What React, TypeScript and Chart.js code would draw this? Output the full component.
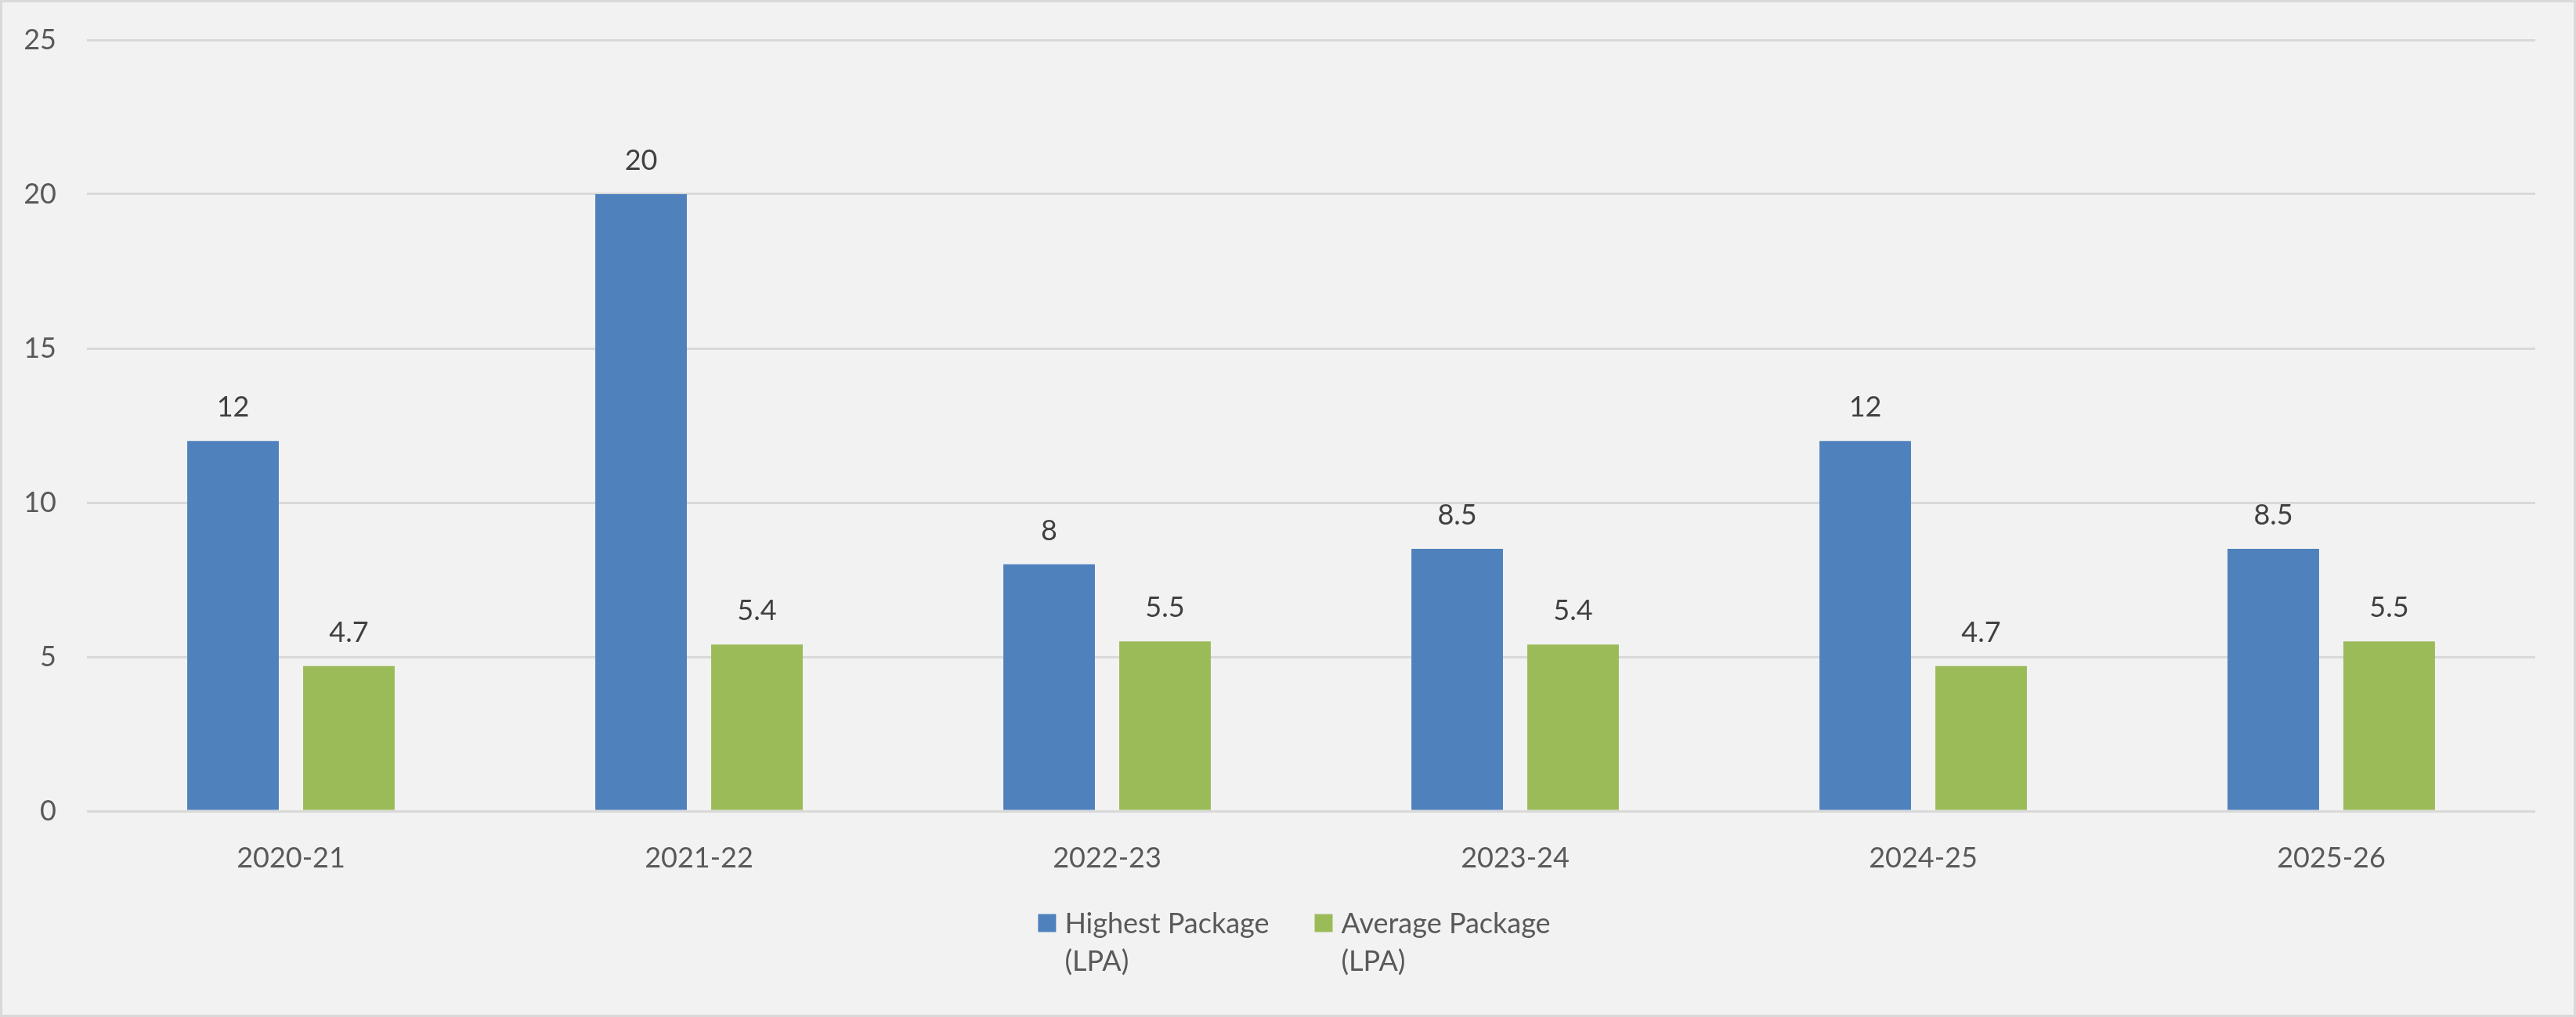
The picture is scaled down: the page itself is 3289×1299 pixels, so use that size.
import React, { useEffect, useRef } from 'react';
import { Chart, registerables } from 'chart.js';

Chart.register(...registerables);

const categories = ['2020-21', '2021-22', '2022-23', '2023-24', '2024-25', '2025-26'];
const highestPackage = [12, 20, 8, 8.5, 12, 8.5];
const averagePackage = [4.7, 5.4, 5.5, 5.4, 4.7, 5.5];
const seriesNames = [
  ['Highest Package', '(LPA)'],
  ['Average Package', '(LPA)'],
];
const seriesColors = ['#4f81bd', '#9bbb59'];
const yMin = 0;
const yMax = 25;
const yStep = 5;

const W = 3289;
const H = 1299;
const FONT = 'Lato, "Open Sans", sans-serif';

const backgroundPlugin = {
  id: 'bgBorder',
  beforeDraw(chart: any) {
    const { ctx, width, height } = chart;
    ctx.save();
    ctx.fillStyle = '#f2f2f2';
    ctx.fillRect(0, 0, width, height);
    ctx.strokeStyle = '#d9d9d9';
    ctx.lineWidth = 3;
    ctx.strokeRect(1.5, 1.5, width - 3, height - 3);
    ctx.restore();
  },
};

const valueLabelPlugin = {
  id: 'valueLabels',
  afterDatasetsDraw(chart: any) {
    const { ctx } = chart;
    ctx.save();
    ctx.font = `36px ${FONT}`;
    ctx.fillStyle = '#404040';
    ctx.textAlign = 'center';
    ctx.textBaseline = 'alphabetic';
    chart.data.datasets.forEach((ds: any, i: number) => {
      const meta = chart.getDatasetMeta(i);
      meta.data.forEach((el: any, j: number) => {
        ctx.fillText(String(ds.data[j]), el.x, el.y - 31);
      });
    });
    ctx.restore();
  },
};

const legendPlugin = {
  id: 'customLegend',
  afterDraw(chart: any) {
    const { ctx, width } = chart;
    ctx.save();
    ctx.font = `36px ${FONT}`;
    const box = 23;
    const boxGap = 11;
    const itemGap = 58;
    const items = chart.data.datasets.map((ds: any) => {
      const lines: string[] = ds.label;
      const tw = Math.max(...lines.map((l) => ctx.measureText(l).width));
      return { lines, color: ds.backgroundColor, w: box + boxGap + tw };
    });
    const total = items.reduce((a: number, it: any) => a + it.w, 0) + itemGap * (items.length - 1);
    let x = width / 2 - total / 2 + 8;
    const firstBaseline = 1192;
    const lineH = 48;
    items.forEach((it: any) => {
      ctx.fillStyle = it.color;
      ctx.fillRect(x, firstBaseline - 13 - box / 2, box, box);
      ctx.fillStyle = '#595959';
      ctx.textAlign = 'left';
      ctx.textBaseline = 'alphabetic';
      it.lines.forEach((l: string, k: number) => {
        ctx.fillText(l, x + box + boxGap, firstBaseline + k * lineH);
      });
      x += it.w + itemGap;
    });
    ctx.restore();
  },
};

export default function App() {
  const canvasRef = useRef<HTMLCanvasElement | null>(null);

  useEffect(() => {
    const canvas = canvasRef.current;
    if (!canvas) return;
    const chart = new Chart(canvas, {
      type: 'bar',
      data: {
        labels: categories,
        datasets: [
          {
            label: seriesNames[0] as any,
            data: highestPackage,
            backgroundColor: seriesColors[0],
            categoryPercentage: 0.568,
            barPercentage: 0.79,
          },
          {
            label: seriesNames[1] as any,
            data: averagePackage,
            backgroundColor: seriesColors[1],
            categoryPercentage: 0.568,
            barPercentage: 0.79,
          },
        ],
      },
      options: {
        animation: false,
        responsive: false,
        devicePixelRatio: 1,
        layout: { padding: { top: 51, right: 52, left: 0, bottom: 0 } },
        plugins: {
          legend: { display: false },
          tooltip: { enabled: false },
        },
        scales: {
          x: {
            grid: { display: false },
            border: { display: false },
            ticks: {
              color: '#595959',
              font: { family: FONT, size: 36 },
              padding: 31,
              maxRotation: 0,
            },
            afterFit(scale: any) {
              scale.height = 263;
              scale.paddingLeft = 0;
              scale.paddingRight = 0;
            },
          },
          y: {
            min: yMin,
            max: yMax,
            grid: { color: '#d9d9d9', lineWidth: 3, drawTicks: false },
            border: { display: false },
            ticks: {
              stepSize: yStep,
              color: '#595959',
              font: { family: FONT, size: 36 },
              padding: 39,
            },
            afterFit(scale: any) {
              scale.width = 111;
              scale.paddingTop = 0;
              scale.paddingBottom = 0;
            },
          },
        },
      },
      plugins: [backgroundPlugin, valueLabelPlugin, legendPlugin],
    });
    return () => chart.destroy();
  }, []);

  return (
    <div style={{ position: 'fixed', left: 0, top: 0, width: W, height: H }}>
      <canvas ref={canvasRef} width={W} height={H} style={{ width: W, height: H, display: 'block' }} />
    </div>
  );
}
